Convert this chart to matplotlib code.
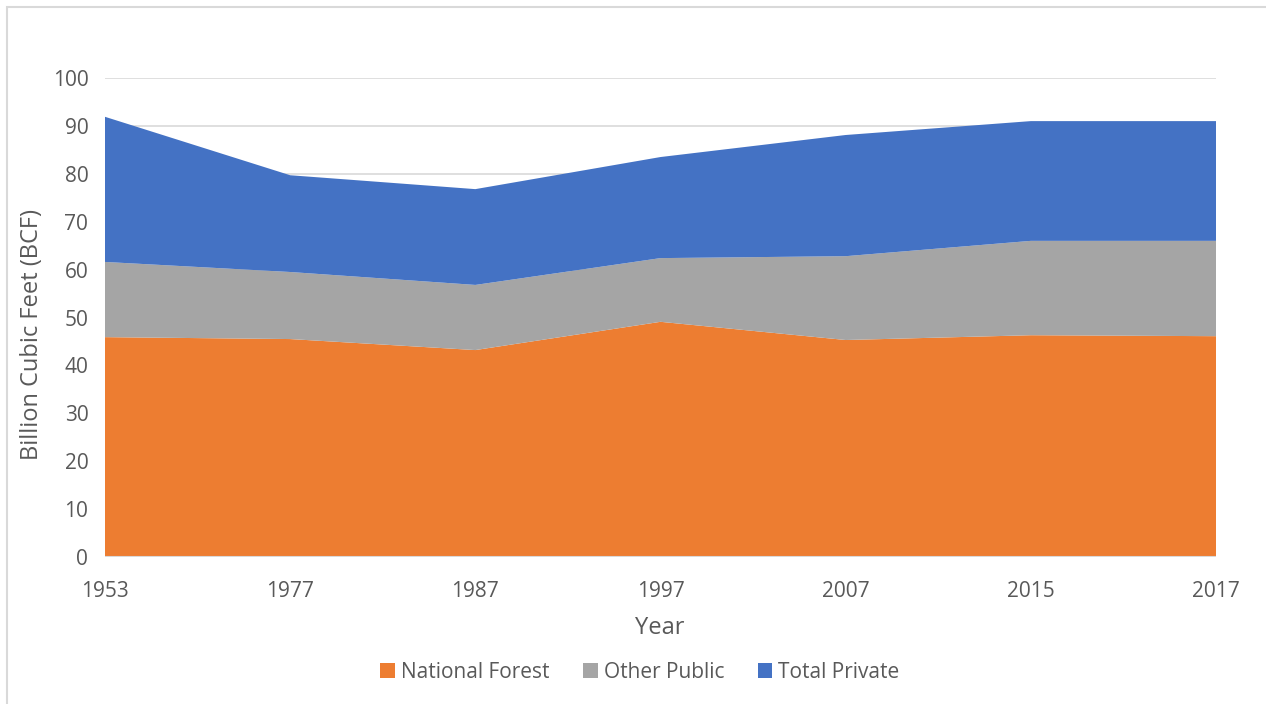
import matplotlib.pyplot as plt
from matplotlib.patches import Rectangle, Patch

years = ["1953", "1977", "1987", "1997", "2007", "2015", "2017"]
national_forest = [45.9, 45.5, 43.2, 49.1, 45.3, 46.3, 46.1]
other_public = [15.7, 14.0, 13.6, 13.3, 17.5, 19.7, 19.9]
total_private = [30.3, 20.2, 20.0, 21.1, 25.3, 25.0, 25.0]
series_names = ["National Forest", "Other Public", "Total Private"]
colors = ["#ED7D31", "#A5A5A5", "#4472C4"]

W, H = 1266, 704
plt.rcParams['font.family'] = ['Open Sans', 'DejaVu Sans']
fig = plt.figure(figsize=(W/100, H/100), dpi=100)
# chart frame
fig.patches.append(Rectangle((7/W, -0.1), 1.2, (H-7)/H + 0.1, transform=fig.transFigure,
                             fill=False, edgecolor="#D9D9D9", linewidth=1.5))

ax = fig.add_axes([105/W, (H-557)/H, (1216-105)/W, (557-78)/H])
x = list(range(len(years)))
ax.stackplot(x, national_forest, other_public, total_private, colors=colors, linewidth=0, zorder=2)
ax.set_xlim(0, len(years)-1)
ax.set_ylim(0, 100)
ax.set_yticks(range(0, 101, 10))
ax.set_xticks(x)
ax.set_xticklabels(years)
ax.grid(axis='y', color="#D9D9D9", linewidth=1.2, zorder=0)
ax.set_axisbelow(True)
for s in ax.spines.values():
    s.set_visible(False)
ax.axhline(0, color="#D9D9D9", linewidth=1.5, zorder=3)
ax.tick_params(axis='both', length=0, labelsize=15, colors="#595959")
ax.tick_params(axis='y', pad=12)
ax.tick_params(axis='x', pad=17)

fig.text(660/W, 1-628/H, "Year", fontsize=17, color="#595959", ha='center', va='center')
fig.text(32/W, 1-335/H, "Billion Cubic Feet (BCF)", fontsize=17, color="#595959",
         ha='center', va='center', rotation=90)

handles = [Patch(facecolor=c, edgecolor='none') for c in colors]
fig.legend(handles, series_names, loc='center', bbox_to_anchor=(640/W, 1-672/H), ncol=3,
           frameon=False, fontsize=15, labelcolor="#595959", handlelength=0.7, handleheight=0.7,
           handletextpad=0.3, columnspacing=1.6)

fig.savefig("out.png", dpi=100)
